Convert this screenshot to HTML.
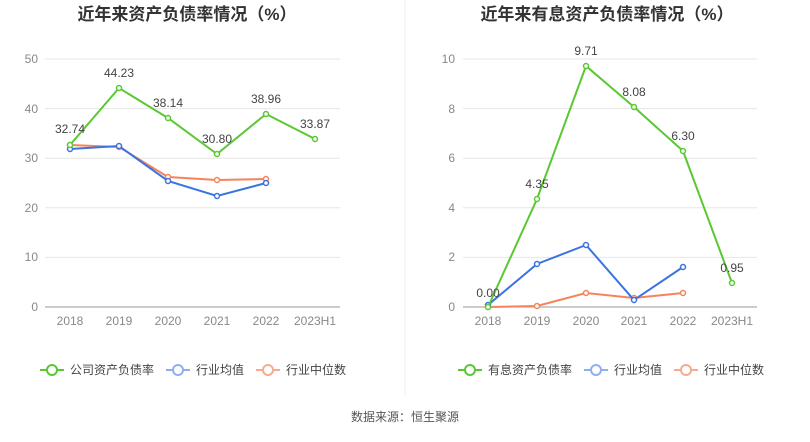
<!DOCTYPE html>
<html><head><meta charset="utf-8"><style>
body{margin:0;background:#fff;}
svg text{font-family:"Liberation Sans","Noto Sans CJK SC",sans-serif;}
</style></head><body>
<svg width="810" height="437" viewBox="0 0 810 437" xmlns="http://www.w3.org/2000/svg">
<rect width="810" height="437" fill="#fff"/>
<line x1="405" y1="0" x2="405" y2="395" stroke="#eee"/>
<text x="187" y="20" font-size="17" font-weight="bold" fill="#333" text-anchor="middle">近年来资产负债率情况（%）</text>
<text x="607" y="20" font-size="17" font-weight="bold" fill="#333" text-anchor="middle">近年来有息资产负债率情况（%）</text>
<g stroke="#e6e6e6">
<line x1="45" x2="340" y1="59" y2="59"/><line x1="45" x2="340" y1="108.6" y2="108.6"/><line x1="45" x2="340" y1="158.2" y2="158.2"/><line x1="45" x2="340" y1="207.8" y2="207.8"/><line x1="45" x2="340" y1="257.4" y2="257.4"/>
<line x1="463" x2="757" y1="59" y2="59"/><line x1="463" x2="757" y1="108.6" y2="108.6"/><line x1="463" x2="757" y1="158.2" y2="158.2"/><line x1="463" x2="757" y1="207.8" y2="207.8"/><line x1="463" x2="757" y1="257.4" y2="257.4"/>
</g>
<line x1="45" x2="340" y1="307" y2="307" stroke="#999"/>
<line x1="463" x2="757" y1="307" y2="307" stroke="#999"/>
<g font-size="12" fill="#888" text-anchor="end">
<text x="38" y="63">50</text><text x="38" y="113">40</text><text x="38" y="162">30</text><text x="38" y="212">20</text><text x="38" y="261">10</text><text x="38" y="311">0</text>
<text x="455" y="63">10</text><text x="455" y="113">8</text><text x="455" y="162">6</text><text x="455" y="212">4</text><text x="455" y="261">2</text><text x="455" y="311">0</text>
</g>
<g font-size="12" fill="#888" text-anchor="middle">
<text x="70" y="325">2018</text><text x="119" y="325">2019</text><text x="168" y="325">2020</text><text x="217" y="325">2021</text><text x="266" y="325">2022</text><text x="315" y="325">2023H1</text>
<text x="488" y="325">2018</text><text x="537" y="325">2019</text><text x="586" y="325">2020</text><text x="634" y="325">2021</text><text x="683" y="325">2022</text><text x="732" y="325">2023H1</text>
</g>
<g fill="#fff" stroke-width="1.5">
<polyline points="70,145 119,147 168,177 217,180 266,179" fill="none" stroke="#f5845c" stroke-width="2"/>
<g stroke="#f5845c"><circle cx="70" cy="145" r="2.5"/><circle cx="119" cy="147" r="2.5"/><circle cx="168" cy="177" r="2.5"/><circle cx="217" cy="180" r="2.5"/><circle cx="266" cy="179" r="2.5"/></g>
<polyline points="70,149 119,146 168,181 217,196 266,183" fill="none" stroke="#3a74e0" stroke-width="2"/>
<g stroke="#3a74e0"><circle cx="70" cy="149" r="2.5"/><circle cx="119" cy="146" r="2.5"/><circle cx="168" cy="181" r="2.5"/><circle cx="217" cy="196" r="2.5"/><circle cx="266" cy="183" r="2.5"/></g>
<polyline points="70,145 119,88 168,118 217,154 266,114 315,139" fill="none" stroke="#5ac833" stroke-width="2"/>
<g stroke="#5ac833"><circle cx="70" cy="145" r="2.5"/><circle cx="119" cy="88" r="2.5"/><circle cx="168" cy="118" r="2.5"/><circle cx="217" cy="154" r="2.5"/><circle cx="266" cy="114" r="2.5"/><circle cx="315" cy="139" r="2.5"/></g>

<polyline points="488,307 537,306 586,293 634,298 683,293" fill="none" stroke="#f5845c" stroke-width="2"/>
<g stroke="#f5845c"><circle cx="488" cy="307" r="2.5"/><circle cx="537" cy="306" r="2.5"/><circle cx="586" cy="293" r="2.5"/><circle cx="634" cy="298" r="2.5"/><circle cx="683" cy="293" r="2.5"/></g>
<polyline points="488,305 537,264 586,245 634,300 683,267" fill="none" stroke="#3a74e0" stroke-width="2"/>
<g stroke="#3a74e0"><circle cx="488" cy="305" r="2.5"/><circle cx="537" cy="264" r="2.5"/><circle cx="586" cy="245" r="2.5"/><circle cx="634" cy="300" r="2.5"/><circle cx="683" cy="267" r="2.5"/></g>
<polyline points="488,307 537,199 586,66 634,107 683,151 732,283" fill="none" stroke="#5ac833" stroke-width="2"/>
<g stroke="#5ac833"><circle cx="488" cy="307" r="2.5"/><circle cx="537" cy="199" r="2.5"/><circle cx="586" cy="66" r="2.5"/><circle cx="634" cy="107" r="2.5"/><circle cx="683" cy="151" r="2.5"/><circle cx="732" cy="283" r="2.5"/></g>
</g>
<g font-size="12" fill="#444" text-anchor="middle">
<text x="70" y="133">32.74</text><text x="119" y="77">44.23</text><text x="168" y="107">38.14</text><text x="217" y="143">30.80</text><text x="266" y="103">38.96</text><text x="315" y="128">33.87</text>
<text x="488" y="297">0.00</text><text x="537" y="188">4.35</text><text x="586" y="55">9.71</text><text x="634" y="96">8.08</text><text x="683" y="140">6.30</text><text x="732" y="272">0.95</text>
</g>
<g font-size="12" fill="#444" stroke-width="2" fill-opacity="1">
<line x1="40" x2="64" y1="370" y2="370" stroke="#5ac833"/><circle cx="52" cy="370" r="5" fill="#fff" stroke="#5ac833"/>
<text x="70" y="374">公司资产负债率</text>
<line x1="166" x2="190" y1="370" y2="370" stroke="#8fb0f0"/><circle cx="178" cy="370" r="5" fill="#fff" stroke="#8fb0f0"/>
<text x="196" y="374">行业均值</text>
<line x1="256" x2="280" y1="370" y2="370" stroke="#f7ab90"/><circle cx="268" cy="370" r="5" fill="#fff" stroke="#f7ab90"/>
<text x="286" y="374">行业中位数</text>
<line x1="458" x2="482" y1="370" y2="370" stroke="#5ac833"/><circle cx="470" cy="370" r="5" fill="#fff" stroke="#5ac833"/>
<text x="488" y="374">有息资产负债率</text>
<line x1="584" x2="608" y1="370" y2="370" stroke="#8fb0f0"/><circle cx="596" cy="370" r="5" fill="#fff" stroke="#8fb0f0"/>
<text x="614" y="374">行业均值</text>
<line x1="674" x2="698" y1="370" y2="370" stroke="#f7ab90"/><circle cx="686" cy="370" r="5" fill="#fff" stroke="#f7ab90"/>
<text x="704" y="374">行业中位数</text>
</g>
<text x="405" y="421" font-size="12" fill="#555" text-anchor="middle">数据来源：恒生聚源</text>
</svg>
</body></html>
